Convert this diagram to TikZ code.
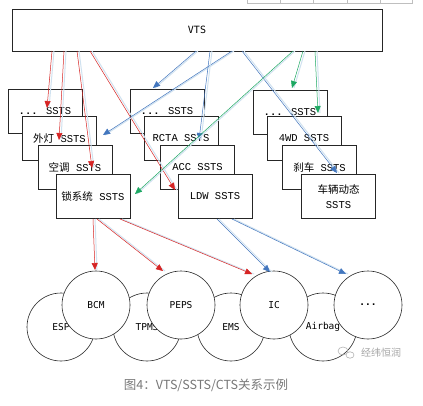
\documentclass[tikz,border=0pt]{standalone}
\usepackage{fontspec}
\setmainfont{Liberation Mono}
\newfontfamily\cjk{Noto Sans CJK SC}
\newfontfamily\labf{DejaVu Sans Mono}
\usetikzlibrary{arrows.meta}
\definecolor{cred}{RGB}{214,36,36}
\definecolor{cblue}{RGB}{66,118,190}
\definecolor{cgreen}{RGB}{28,168,98}
\definecolor{ghost}{RGB}{208,226,240}
\definecolor{capgray}{RGB}{120,120,120}
\newcommand\myconn[3]{%
  \draw[ghostline] (#2) -- (#3);
  \draw[arr,#1] (#2) -- (#3);}
\begin{document}
\begin{tikzpicture}[x=1pt,y=-1pt,
  ssts/.style={draw=black!85,line width=0.6pt,fill=white,minimum width=74pt,minimum height=44pt,inner sep=0pt,align=center,font=\fontsize{10.5}{14.5}\selectfont},
  ecu/.style={circle,draw=black!85,line width=0.6pt,fill=white,minimum size=68pt,inner sep=0pt,font=\labf\fontsize{9.5}{11}\selectfont},
  arr/.style={-{Triangle[length=7pt,width=6pt]},line width=0.5pt},
  ghostline/.style={draw=ghost,line width=1pt,transform canvas={xshift=2pt}},
  frag/.style={draw=black!25,line width=0.5pt}]
\useasboundingbox (0,0) rectangle (423,405);
\fill[white] (0,0) rectangle (423,405);
% table fragment at top right
\draw[frag] (247,0) -- (247,3) -- (412,3) -- (412,0);
\foreach \xx in {280,313,347,380} \draw[frag] (\xx,0) -- (\xx,3);
% VTS
\node[draw=black!85,line width=0.6pt,minimum width=370pt,minimum height=42pt,inner sep=0pt,font=\labf\fontsize{10}{12}\selectfont] (vts) at (197,30) {VTS};
% left group
\node[ssts] (l1) at (45,111.5) {\textbf{...} SSTS};
\node[ssts] (l2) at (59.5,138) {{\cjk 外灯} SSTS};
\node[ssts] (l3) at (75,167) {{\cjk 空调} SSTS};
\node[ssts] (l4) at (93,196.5) {{\cjk 锁系统} SSTS};
% middle group
\node[ssts] (m1) at (167,111.5) {\textbf{...} SSTS};
\node[ssts] (m2) at (181,138) {RCTA SSTS};
\node[ssts] (m3) at (197.5,167) {ACC SSTS};
\node[ssts] (m4) at (215,196.5) {LDW SSTS};
% right group
\node[ssts] (r1) at (290,112) {\textbf{...} SSTS};
\node[ssts] (r2) at (304,138) {4WD SSTS};
\node[ssts] (r3) at (319.5,167) {{\cjk 刹车} SSTS};
\node[ssts] (r4) at (338.5,196.5) {{\cjk 车辆动态}\\SSTS};
% ECUs back row
\node[ecu] (esp) at (61,327) {ESP};
\node[ecu] (tpms) at (147,327) {TPMS};
\node[ecu] (ems) at (231,327) {EMS};
\node[ecu] (airbag) at (323,327) {Airbag};
% ECUs front row
\node[ecu] (bcm) at (96,305) {BCM};
\node[ecu] (peps) at (181,305) {PEPS};
\node[ecu] (ic) at (274,305) {IC};
\node[ecu] (more) at (368,305) {\textbf{...}};
% connector end points
\coordinate (vr1) at (52,51);   \coordinate (tr1) at (47,108);
\coordinate (vr2) at (64,51);   \coordinate (tr2) at (59,140);
\coordinate (vr3) at (77,51);   \coordinate (tr3) at (92,168);
\coordinate (vr4) at (90,51);   \coordinate (tr4) at (175,190);
\coordinate (lr5) at (93,219);  \coordinate (tr5) at (95,270);
\coordinate (lr6) at (97,219);  \coordinate (tr6) at (163,271);
\coordinate (lr7) at (120,219); \coordinate (tr7) at (252,274);
\coordinate (vb1) at (196,51);  \coordinate (tb1) at (153,88);
\coordinate (vb2) at (232,51);  \coordinate (tb2) at (103,135);
\coordinate (vb3) at (210,51);  \coordinate (tb3) at (199,140);
\coordinate (vb4) at (242,51);  \coordinate (tb4) at (337,173);
\coordinate (lb5) at (217,219); \coordinate (tb5) at (270,272);
\coordinate (lb6) at (232,219); \coordinate (tb6) at (346,274);
\coordinate (vg1) at (303,51);  \coordinate (tg1) at (292,88);
\coordinate (vg2) at (315,51);  \coordinate (tg2) at (318,113);
\coordinate (vg3) at (293,51);  \coordinate (tg3) at (135,194);
% connectors
\myconn{cred}{vr1}{tr1}
\myconn{cred}{vr2}{tr2}
\myconn{cred}{vr3}{tr3}
\myconn{cred}{vr4}{tr4}
\myconn{cred}{lr5}{tr5}
\myconn{cred}{lr6}{tr6}
\myconn{cred}{lr7}{tr7}
\myconn{cblue}{vb1}{tb1}
\myconn{cblue}{vb2}{tb2}
\myconn{cblue}{vb3}{tb3}
\myconn{cblue}{vb4}{tb4}
\myconn{cblue}{lb5}{tb5}
\myconn{cblue}{lb6}{tb6}
\myconn{cgreen}{vg1}{tg1}
\myconn{cgreen}{vg2}{tg2}
\myconn{cgreen}{vg3}{tg3}
% watermark
\node[text=black!35,font=\cjk\fontsize{10}{12}\selectfont] (wm) at (381,353) {经纬恒润};
\draw[black!30,line width=0.6pt] (343,351) ellipse (5pt and 4pt);
\draw[black!30,line width=0.6pt,fill=white] (350,355) ellipse (4pt and 3.2pt);
% caption
\node[text=capgray,font=\cjk\fontsize{12.5}{14}\selectfont] (cap) at (206,385) {图4：VTS/SSTS/CTS关系示例};
\end{tikzpicture}
\end{document}
